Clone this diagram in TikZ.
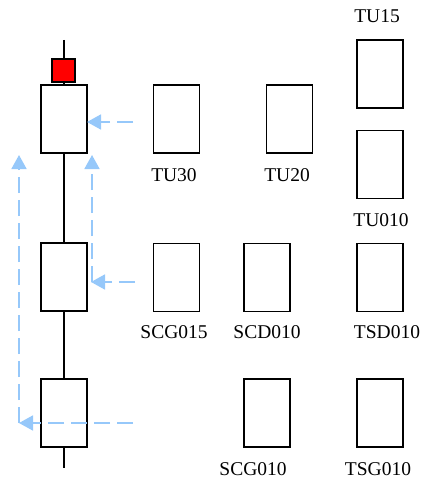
\documentclass[tikz,border=0pt]{standalone}
\usepackage{fontspec}
\setmainfont{Liberation Serif}
\usetikzlibrary{arrows.meta}
\definecolor{flowblue}{RGB}{150,200,250}
\begin{document}
\begin{tikzpicture}[x=1pt,y=-1pt,
  cell/.style={draw=black, line width=1.6pt, fill=white, minimum width=46pt, minimum height=68pt, inner sep=0pt, outer sep=0pt},
  redcap/.style={draw=black, line width=1.6pt, fill=red, minimum size=23pt, inner sep=0pt, outer sep=0pt},
  lbl/.style={font=\fontsize{19.5}{20}\selectfont, inner sep=0pt, anchor=base},
  flow/.style={draw=flowblue, line width=1.8pt, dash pattern=on 16pt off 7pt,
    -{Triangle[length=14pt,width=15pt]}}
]
\useasboundingbox (0,0) rectangle (424,481);

% main vertical feeder
\coordinate (top) at (64,40);
\coordinate (bot) at (64,468);
\draw[line width=1.6pt] (top) -- (bot);

% feeder cells and cap
\node[redcap] (red) at (63.5,70.5) {};
\node[cell] (L1) at (64,119) {};
\node[cell] (L2) at (64,277) {};
\node[cell] (L3) at (64,413) {};

% outgoing units
\node[cell] (tu30) at (176.5,119) {};
\node[cell] (tu20) at (289.5,119) {};
\node[cell] (tu15) at (380,74) {};
\node[cell] (tu010) at (380,164.5) {};
\node[cell] (scg015) at (176.5,277.5) {};
\node[cell] (scd010) at (267,277.5) {};
\node[cell] (tsd010) at (380,277.5) {};
\node[cell] (scg010) at (267,413) {};
\node[cell] (tsg010) at (380,413) {};

% labels
\node[lbl] (t1) at (174,181.5) {TU30};
\node[lbl] (t2) at (287,181.5) {TU20};
\node[lbl] (t3) at (377,23) {TU15};
\node[lbl] (t4) at (381,226) {TU010};
\node[lbl] (t5) at (174,338.5) {SCG015};
\node[lbl] (t6) at (267,338.5) {SCD010};
\node[lbl] (t7) at (387,338.5) {TSD010};
\node[lbl] (t8) at (253,475) {SCG010};
\node[lbl] (t9) at (378,475) {TSG010};

% transfer paths
\coordinate (a1s) at (133,122);
\coordinate (a1e) at (87,122);
\coordinate (a2s) at (135,282);
\coordinate (a2e) at (91,282);
\coordinate (a2u) at (92,155);
\coordinate (a2b) at (92,282);
\coordinate (a3s) at (133,423);
\coordinate (a3e) at (19,423);
\coordinate (a3u) at (19,155);

\draw[flow] (a1s) -- (a1e);
\draw[flow] (a2s) -- (a2e);
\draw[flow] (a2b) -- (a2u);
\draw[flow] (a3s) -- (a3e);
\draw[flow] (a3e) -- (a3u);
\end{tikzpicture}
\end{document}
